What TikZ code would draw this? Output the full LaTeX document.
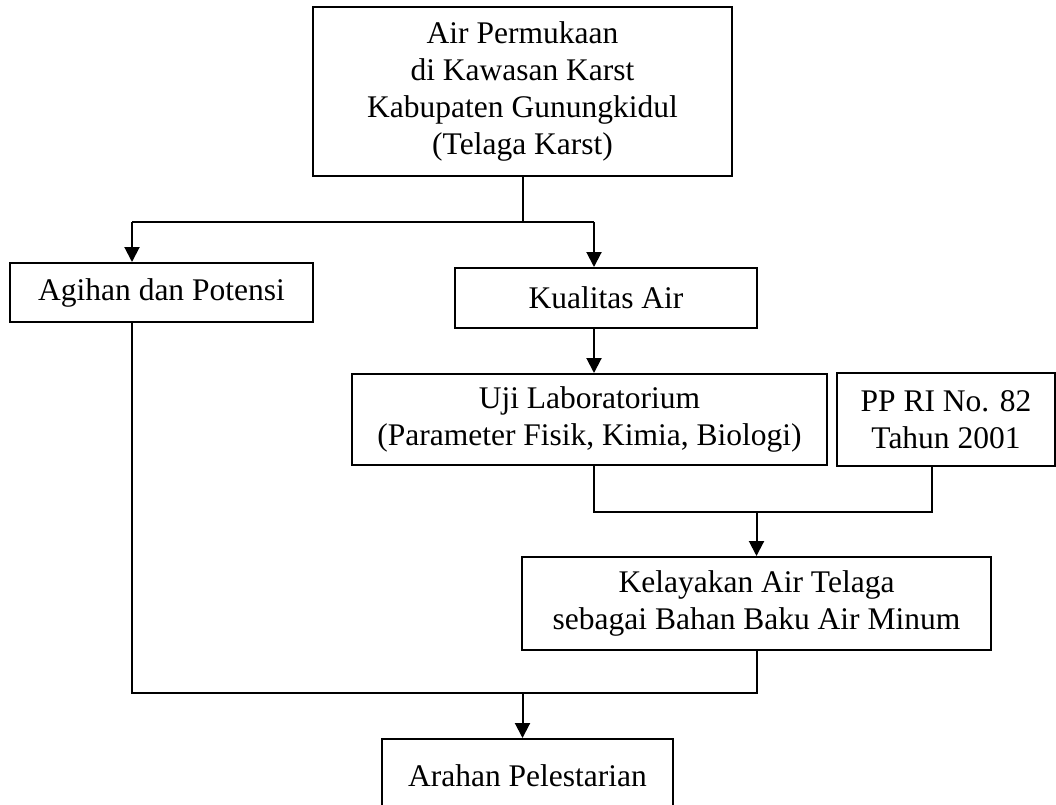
\documentclass[tikz,border=0pt]{standalone}
\usepackage{fontspec}
\setmainfont{Liberation Serif}
\usetikzlibrary{arrows.meta}

\begin{document}
\begin{tikzpicture}[x=1pt,y=-1pt,
    kotak/.style={draw,line width=2pt,align=center,inner sep=0pt,font=\fontsize{31.5}{36.7}\selectfont},
    garis/.style={line width=2pt},
    panah/.style={garis,-{Triangle[length=15pt,width=15pt]}}]
		\useasboundingbox (0,0) rectangle (1056,804);
		\clip (0,0) rectangle (1056,804);
		
		% Kotak
		\node[kotak,minimum width=419pt,minimum height=169pt] (telaga) at (522.5,91.5) {Air Permukaan\\di Kawasan Karst\\Kabupaten Gunungkidul\\(Telaga Karst)};
		\node[kotak,minimum width=303pt,minimum height=59pt] (agihan) at (161.5,292.5) {Agihan dan Potensi};
		\node[kotak,minimum width=302pt,minimum height=60pt] (kualitas) at (606,298) {Kualitas Air};
		\node[kotak,minimum width=475pt,minimum height=91pt] (uji) at (589.5,419.5) {Uji Laboratorium\\(Parameter Fisik, Kimia, Biologi)};
		\node[kotak,minimum width=218pt,minimum height=93pt] (pp) at (946,419.5) {PP RI No. 82\\Tahun 2001};
		\node[kotak,minimum width=469pt,minimum height=93pt] (layak) at (756.5,603.5) {Kelayakan Air Telaga\\sebagai Bahan Baku Air Minum};
		\node[kotak,minimum width=291pt,minimum height=74pt] (arahan) at (527.5,776) {Arahan Pelestarian};
		
		% Titik bantu
		\coordinate (cabangA) at (132,222);
		\coordinate (cabangB) at (594,222);
		\coordinate (gabungA) at (594,512);
		\coordinate (gabungB) at (932,512);
		\coordinate (gabungC) at (132,693);
		
		% Garis dan panah
		\draw[garis] (telaga.south) -- (telaga.south |- cabangA);
		\draw[garis] (cabangA) -- (cabangB);
		\draw[panah] (cabangA) -- (cabangA |- agihan.north);
		\draw[panah] (cabangB) -- (cabangB |- kualitas.north);
		\draw[panah] (cabangB |- kualitas.south) -- (cabangB |- uji.north);
		\draw[garis] (gabungA |- uji.south) -- (gabungA) -- (gabungB) -- (gabungB |- pp.south);
		\draw[panah] (layak.north |- gabungA) -- (layak.north);
		\draw[garis] (gabungC |- agihan.south) -- (gabungC) -- (layak.south |- gabungC) -- (layak.south);
		\draw[panah] (telaga.south |- gabungC) -- (telaga.south |- arahan.north);
	\end{tikzpicture}
\end{document}
